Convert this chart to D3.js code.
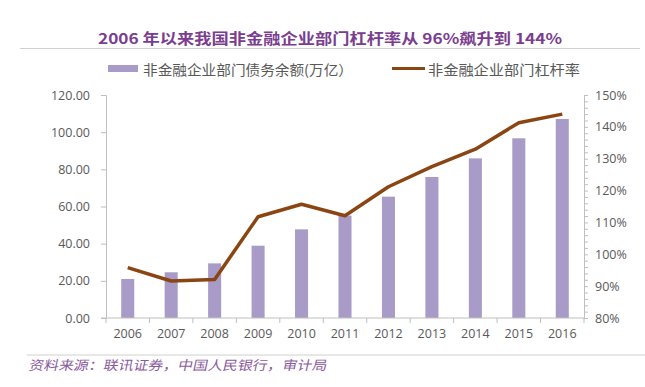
<!DOCTYPE html>
<html>
<head>
<meta charset="utf-8">
<script src="https://cdn.jsdelivr.net/npm/d3@7"></script>
<style>
  body { margin: 0; background: #fff; }
  svg { display: block; }
</style>
</head>
<body>
<svg id="canvas"></svg>
<script>
/***********************************************************************/
// Data

var years = ['2006', '2007', '2008', '2009', '2010', '2011', '2012', '2013', '2014', '2015', '2016'];
var debt = [21.0, 24.6, 29.4, 38.9, 47.7, 55.1, 65.3, 75.9, 85.9, 96.7, 107.1];     // 万亿
var leverage = [95.8, 91.6, 92.1, 111.8, 115.7, 112.1, 121.2, 127.5, 133.0, 141.3, 144.0]; // %
var leftTicks = [0, 20, 40, 60, 80, 100, 120];
var rightTicks = [80, 90, 100, 110, 120, 130, 140, 150];

var title = '2006 年以来我国非金融企业部门杠杆率从 96%飙升到 144%';
var barName = '非金融企业部门债务余额(万亿）';
var lineName = '非金融企业部门杠杆率';
var source = '资料来源：联讯证券，中国人民银行，审计局';

/***********************************************************************/
// Setup

var width = 645, height = 387;
var plotLeft = 106, plotRight = 584, plotTop = 95, plotBottom = 318;
var axisColor = '#bfbfbf', labelColor = '#595959';
var font = '"Open Sans", "Noto Sans CJK SC", sans-serif';
var cjk = '"Noto Sans CJK SC", sans-serif';

var svg = d3.select('#canvas').attr('width', width).attr('height', height);

var xScale = d3.scaleBand().domain(years).range([plotLeft, plotRight]).paddingInner(0.7).paddingOuter(0.35);
var yLeft = d3.scaleLinear().domain([0, 120]).range([plotBottom, plotTop]);
var yRight = d3.scaleLinear().domain([80, 150]).range([plotBottom, plotTop]);

/***********************************************************************/
// Title + rules

svg.append('text').text(title)
  .attr('x', 98).attr('y', 43.5)
  .attr('textLength', 464).attr('lengthAdjust', 'spacingAndGlyphs')
  .style('font-family', cjk).style('font-weight', 'bold')
  .style('font-size', '14.5px').style('fill', '#7a3d8f');

svg.append('line').attr('x1', 20).attr('x2', 640).attr('y1', 48.5).attr('y2', 48.5)
  .style('stroke', '#d0d0d0').style('stroke-width', 1);

svg.append('line').attr('x1', 27).attr('x2', 645).attr('y1', 355).attr('y2', 355)
  .style('stroke', '#d0d0d0').style('stroke-width', 1);

svg.append('text').text(source)
  .attr('x', 28).attr('y', 370)
  .attr('textLength', 298).attr('lengthAdjust', 'spacingAndGlyphs')
  .style('font-family', cjk)
  .style('font-size', '13px').style('fill', '#8a5aa0')
  .attr('transform', 'translate(79,0) skewX(-12)');

/***********************************************************************/
// Legend

var legend = svg.append('g').style('font-family', cjk).style('font-size', '14px').style('fill', labelColor);
legend.append('rect').attr('x', 108).attr('y', 65).attr('width', 30).attr('height', 7).style('fill', '#a99bc8');
legend.append('text').text(barName).attr('x', 143).attr('y', 75)
  .attr('textLength', 210).attr('lengthAdjust', 'spacingAndGlyphs');
legend.append('line').attr('x1', 392).attr('x2', 425).attr('y1', 68.5).attr('y2', 68.5)
  .style('stroke', '#8b4513').style('stroke-width', 3);
legend.append('text').text(lineName).attr('x', 428).attr('y', 75)
  .attr('textLength', 152).attr('lengthAdjust', 'spacingAndGlyphs');

/***********************************************************************/
// Bars

svg.append('g').selectAll('rect').data(debt).enter().append('rect')
  .attr('x', (d, i) => xScale(years[i]))
  .attr('width', xScale.bandwidth())
  .attr('y', d => yLeft(d))
  .attr('height', d => plotBottom - yLeft(d))
  .style('fill', '#a99bc8');

/***********************************************************************/
// Axes

var axisLeft = svg.append('g').attr('transform', 'translate(' + plotLeft + ',0)')
  .call(d3.axisLeft(yLeft).tickValues(leftTicks).tickFormat(d3.format('.2f')).tickSize(5).tickPadding(11));

var axisRight = svg.append('g').attr('transform', 'translate(' + plotRight + ',0)')
  .call(d3.axisRight(yRight).tickValues(d3.range(80, 151, 2)).tickFormat(d => rightTicks.includes(d) ? d + '%' : '').tickSize(4).tickPadding(7));

var xTicks = years.map(y => xScale(y) - xScale.step() * xScale.paddingInner() / 2).concat([plotRight]);
var axisBottom = svg.append('g').attr('transform', 'translate(0,' + plotBottom + ')');
axisBottom.append('line').attr('x1', plotLeft - 5).attr('x2', plotRight).attr('y1', 0).attr('y2', 0).style('stroke', axisColor);
axisBottom.selectAll('.xt').data(xTicks).enter().append('line')
  .attr('x1', d => d).attr('x2', d => d).attr('y1', 0).attr('y2', 5).style('stroke', axisColor);
axisBottom.selectAll('.xl').data(years).enter().append('text')
  .text(d => d).attr('x', d => xScale(d) + xScale.bandwidth() / 2).attr('y', 20)
  .attr('text-anchor', 'middle');

[axisLeft, axisRight, axisBottom].forEach(g => {
  g.selectAll('path, line').style('stroke', axisColor);
  g.selectAll('text').style('fill', labelColor).style('font-family', font).style('font-size', '12.5px');
});

/***********************************************************************/
// Line

var line = d3.line()
  .x((d, i) => xScale(years[i]) + xScale.bandwidth() / 2)
  .y(d => yRight(d));

svg.append('path').datum(leverage).attr('d', line)
  .style('fill', 'none').style('stroke', '#8b4513').style('stroke-width', 3.5).style('stroke-linejoin', 'round');
</script>
</body>
</html>
